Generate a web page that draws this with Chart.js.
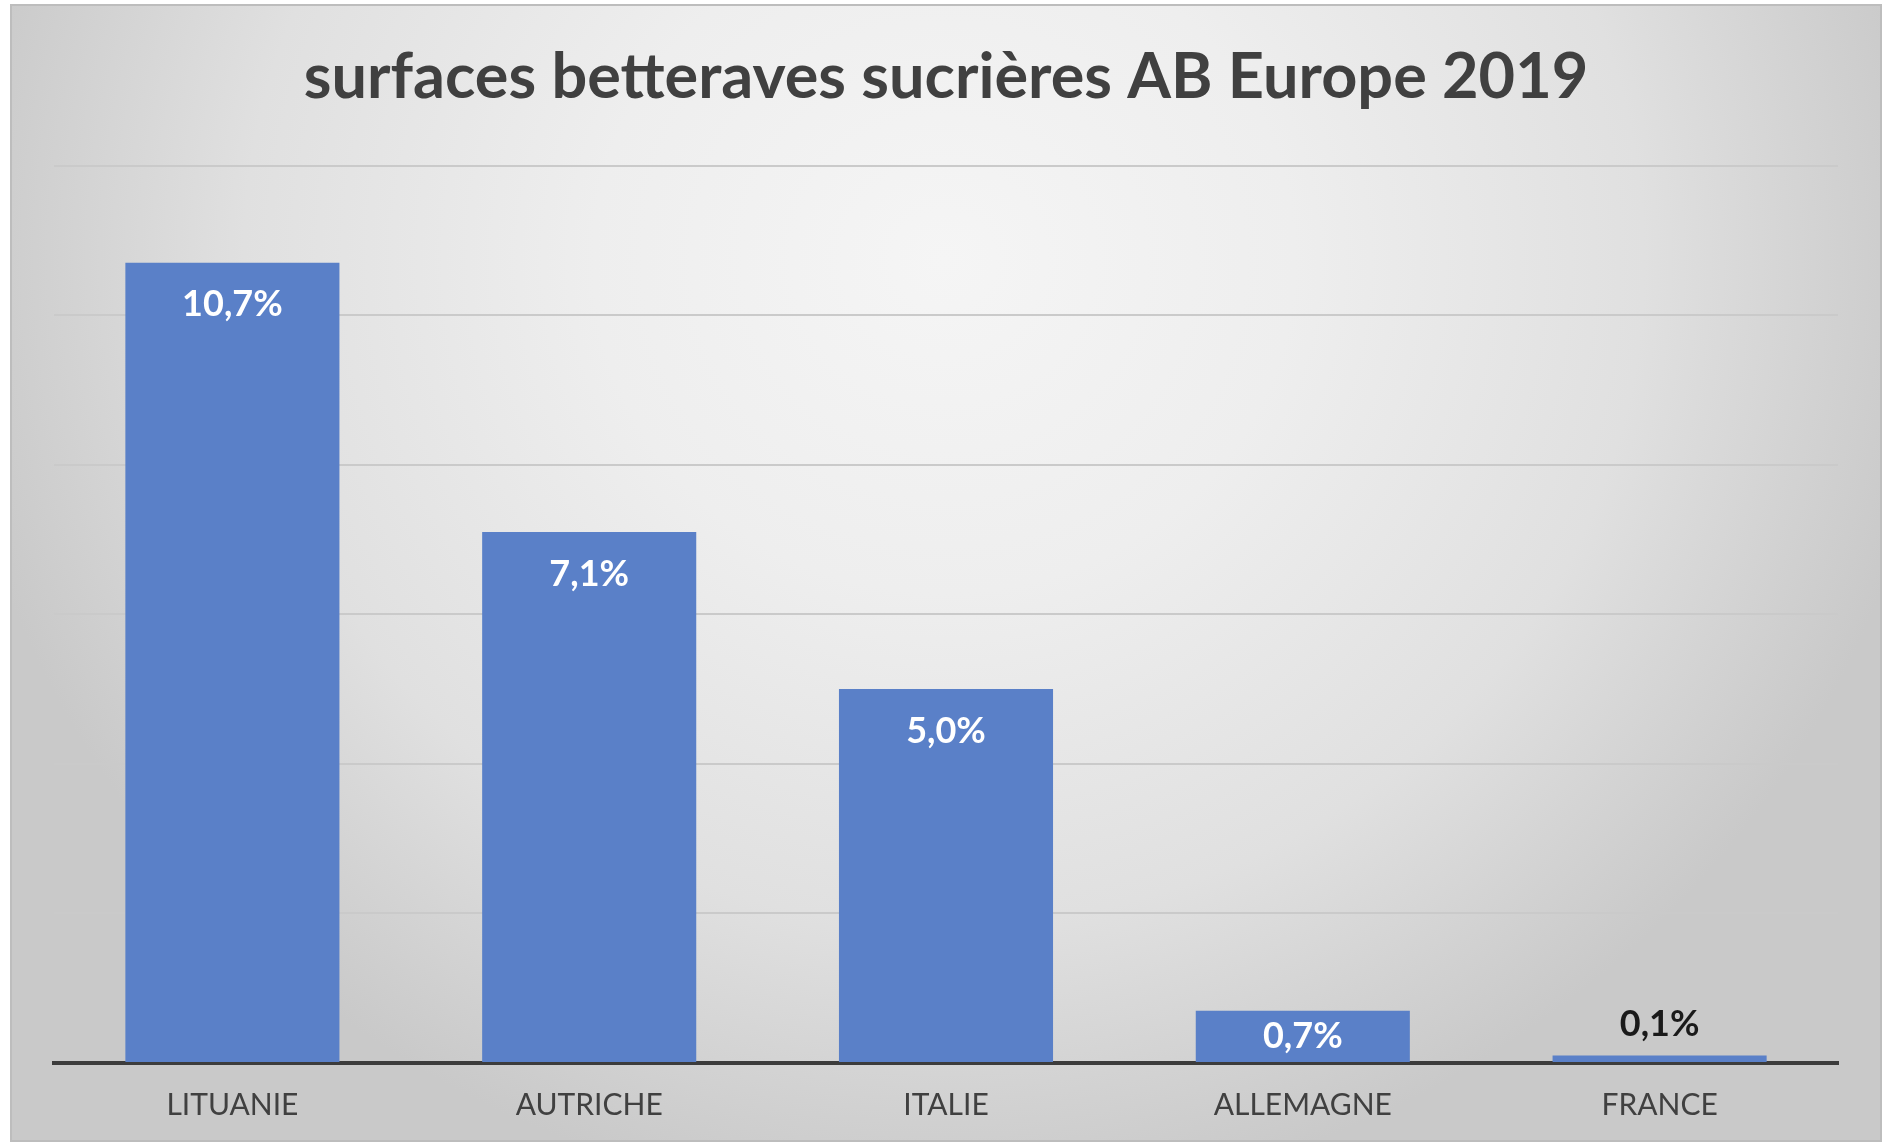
<!DOCTYPE html>
<html>
<head>
<meta charset="utf-8">
<script src="https://cdn.jsdelivr.net/npm/chart.js@4/dist/chart.umd.min.js"></script>
<style>
  html, body { margin: 0; padding: 0; background: #ffffff; }
  #wrap { position: absolute; left: 0; top: 0; width: 1887px; height: 1144px; }
</style>
</head>
<body>
<div id="wrap"><canvas id="c" width="1887" height="1144"></canvas></div>
<script>
const titleText = "surfaces betteraves sucrières AB Europe 2019";
const categories = ["LITUANIE", "AUTRICHE", "ITALIE", "ALLEMAGNE", "FRANCE"];
const values = [10.7, 7.1, 5.0, 0.7, 0.1];
const valueLabels = ["10,7%", "7,1%", "5,0%", "0,7%", "0,1%"];
const yMin = 0, yMax = 12, yStep = 2;

const panelPlugin = {
  id: 'panel',
  beforeDraw(chart) {
    const ctx = chart.ctx;
    const x0 = 11, y0 = 5, x1 = 1881, y1 = 1141;
    ctx.save();
    ctx.fillStyle = '#ffffff';
    ctx.fillRect(0, 0, chart.width, chart.height);
    const cx = 944, cy = 260;
    const rx = 1000, ry = 950;
    ctx.beginPath();
    ctx.rect(x0, y0, x1 - x0, y1 - y0);
    ctx.clip();
    ctx.translate(cx, cy);
    ctx.scale(rx / ry, 1);
    const g = ctx.createRadialGradient(0, 0, 0, 0, 0, ry);
    g.addColorStop(0, '#f5f5f5');
    g.addColorStop(0.35, '#eeeeee');
    g.addColorStop(0.7, '#e0e0e0');
    g.addColorStop(1, '#c9c9c9');
    ctx.fillStyle = g;
    ctx.fillRect(-cx * 2, -cy * 2, 4000, 4000);
    ctx.restore();
    ctx.save();
    ctx.strokeStyle = '#bdbdbd';
    ctx.lineWidth = 2;
    ctx.strokeRect(x0, y0, x1 - x0, y1 - y0);
    ctx.restore();
  }
};

const labelPlugin = {
  id: 'valueLabels',
  afterDraw(chart) {
    const ctx = chart.ctx;
    const meta = chart.getDatasetMeta(0);
    ctx.save();
    ctx.font = 'bold 36px Lato, "Open Sans", sans-serif';
    ctx.textAlign = 'center';
    ctx.textBaseline = 'middle';
    meta.data.forEach((bar, i) => {
      const top = bar.y, base = bar.base;
      const h = base - top;
      let y, color;
      if (h > 90) { y = top + 42; color = '#ffffff'; }
      else if (h > 36) { y = (top + base) / 2; color = '#ffffff'; }
      else { y = top - 31; color = '#1a1a1a'; }
      ctx.fillStyle = color;
      ctx.fillText(valueLabels[i], bar.x, y);
    });
    ctx.restore();
  }
};

new Chart(document.getElementById('c'), {
  type: 'bar',
  data: {
    labels: categories,
    datasets: [{
      data: values,
      backgroundColor: '#5a80c8',
      borderWidth: 0,
      categoryPercentage: 1.0,
      barPercentage: 0.6
    }]
  },
  options: {
    responsive: false,
    animation: false,
    layout: { padding: { left: 54, right: 49, top: 0, bottom: 21 } },
    plugins: {
      legend: { display: false },
      tooltip: { enabled: false },
      title: {
        display: true,
        text: titleText,
        color: '#404040',
        font: { family: 'Lato, "Open Sans", sans-serif', size: 63, weight: 'bold', lineHeight: 1.2 },
        padding: { top: 40, bottom: 50 }
      }
    },
    scales: {
      x: {
        z: 1,
        grid: { display: false, drawTicks: false },
        border: { display: true, color: '#3c3c3c', width: 4 },
        ticks: {
          color: '#404040',
          font: { family: 'Lato, "Open Sans", sans-serif', size: 30, lineHeight: 1.2 },
          padding: 24
        },
        afterFit(scale) { scale.height = 60; }
      },
      y: {
        min: yMin, max: yMax,
        ticks: { display: false, stepSize: yStep },
        grid: { color: '#cacaca', lineWidth: 2, drawTicks: false },
        border: { display: false }
      }
    }
  },
  plugins: [panelPlugin, labelPlugin]
});
</script>
</body>
</html>
